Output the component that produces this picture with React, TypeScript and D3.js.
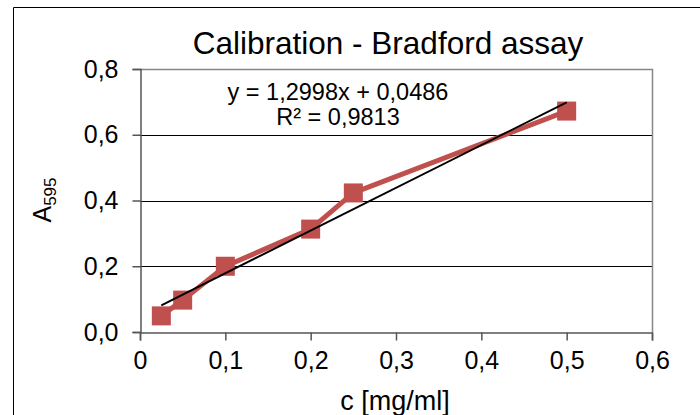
import React, { useRef, useEffect } from "react";
import * as d3 from "d3";

const width = 700;
const height = 415;
const margin = { top: 69, right: 48, bottom: 83, left: 140 };

// measured concentrations and absorbances
const concentrations = [0.025, 0.05, 0.1, 0.2, 0.25, 0.5];
const absorbances = [0.049, 0.097, 0.2, 0.313, 0.423, 0.672];
const xTicks = [0, 0.1, 0.2, 0.3, 0.4, 0.5, 0.6];
const yTicks = [0, 0.2, 0.4, 0.6, 0.8];
const slope = 1.2998;
const intercept = 0.0486;
const rSquared = 0.9813;

const fmt = (v: number, d: number) => v.toFixed(d).replace(".", ",");

const App = () => {
  const svgRef = useRef<SVGSVGElement>(null);

  useEffect(() => {
    const svg = d3.select(svgRef.current);
    svg.selectAll("*").remove();

    const font = "'Liberation Sans', Arial, sans-serif";
    const x = d3
      .scaleLinear()
      .domain([0, 0.6])
      .range([margin.left, width - margin.right]);
    const y = d3
      .scaleLinear()
      .domain([0, 0.8])
      .range([height - margin.bottom, margin.top]);

    // outer chart frame (only left and top visible)
    svg
      .append("path")
      .attr("d", `M13.5,${height} V7.5 H${width}`)
      .attr("fill", "none")
      .attr("stroke", "#000")
      .attr("stroke-width", 1);

    svg
      .append("text")
      .attr("x", 388)
      .attr("y", 54)
      .attr("text-anchor", "middle")
      .attr("font-family", font)
      .attr("font-size", 31.5)
      .text("Calibration - Bradford assay");

    // gridlines
    svg
      .append("g")
      .selectAll("line")
      .data(yTicks.filter((t) => t > 0 && t < 0.8))
      .enter()
      .append("line")
      .attr("x1", x(0))
      .attr("x2", x(0.6))
      .attr("y1", (d) => Math.round(y(d)) + 0.5)
      .attr("y2", (d) => Math.round(y(d)) + 0.5)
      .attr("stroke", "#000");

    // plot border top + right
    svg
      .append("path")
      .attr(
        "d",
        `M${x(0)},${Math.round(y(0.8)) + 0.5} H${Math.round(x(0.6)) + 0.5} V${y(0)}`
      )
      .attr("fill", "none")
      .attr("stroke", "#868686")
      .attr("stroke-width", 1.5);

    const xAxis = svg
      .append("g")
      .attr("transform", `translate(0,${Math.round(y(0)) + 0.5})`)
      .call(
        d3
          .axisBottom(x)
          .tickValues(xTicks)
          .tickSize(8)
          .tickPadding(11)
          .tickFormat((d) => (d === 0 ? "0" : fmt(d as number, 1)))
      );
    const yAxis = svg
      .append("g")
      .attr("transform", `translate(${Math.round(x(0)) + 0.5},0)`)
      .call(
        d3
          .axisLeft(y)
          .tickValues(yTicks)
          .tickSize(8)
          .tickPadding(14)
          .tickFormat((d) => fmt(d as number, 1))
      );
    [xAxis, yAxis].forEach((g) => {
      g.selectAll("path").attr("stroke", "#555").attr("stroke-width", 1.5);
      g.selectAll("line").attr("stroke", "#555").attr("stroke-width", 1.5);
      g.selectAll("text")
        .attr("font-family", font)
        .attr("font-size", 25)
        .attr("fill", "#000");
    });

    // series
    const pts = concentrations.map((c, i) => [c, absorbances[i]] as [number, number]);
    svg
      .append("path")
      .datum(pts)
      .attr(
        "d",
        d3
          .line<[number, number]>()
          .x((d) => x(d[0]))
          .y((d) => y(d[1]))
      )
      .attr("fill", "none")
      .attr("stroke", "#C0504D")
      .attr("stroke-width", 5)
      .attr("stroke-linejoin", "round");

    const size = 19;
    svg
      .append("g")
      .selectAll("rect")
      .data(pts)
      .enter()
      .append("rect")
      .attr("x", (d) => x(d[0]) - size / 2)
      .attr("y", (d) => y(d[1]) - size / 2)
      .attr("width", size)
      .attr("height", size)
      .attr("fill", "#C0504D");

    // linear trendline
    const x0 = d3.min(concentrations) as number;
    const x1 = d3.max(concentrations) as number;
    svg
      .append("line")
      .attr("x1", x(x0))
      .attr("y1", y(slope * x0 + intercept))
      .attr("x2", x(x1))
      .attr("y2", y(slope * x1 + intercept))
      .attr("stroke", "#000")
      .attr("stroke-width", 2);

    const eq = svg
      .append("text")
      .attr("text-anchor", "middle")
      .attr("font-family", font)
      .attr("font-size", 23.5);
    eq.append("tspan")
      .attr("x", 338)
      .attr("y", 100)
      .text(`y = ${fmt(slope, 4)}x + ${fmt(intercept, 4)}`);
    eq.append("tspan")
      .attr("x", 338)
      .attr("y", 125)
      .text(`R² = ${fmt(rSquared, 4)}`);

    svg
      .append("text")
      .attr("x", 395)
      .attr("y", 410)
      .attr("text-anchor", "middle")
      .attr("font-family", font)
      .attr("font-size", 27)
      .text("c [mg/ml]");

    const yt = svg
      .append("text")
      .attr("transform", `translate(51,200) rotate(-90)`)
      .attr("text-anchor", "middle")
      .attr("font-family", font)
      .attr("font-size", 25);
    yt.append("tspan").text("A");
    yt.append("tspan").attr("font-size", 17).attr("dy", 5).text("595");
  }, []);

  return (
    <svg
      ref={svgRef}
      width={width}
      height={height}
      style={{ position: "absolute", left: 0, top: 0, background: "#fff" }}
    />
  );
};

export default App;
